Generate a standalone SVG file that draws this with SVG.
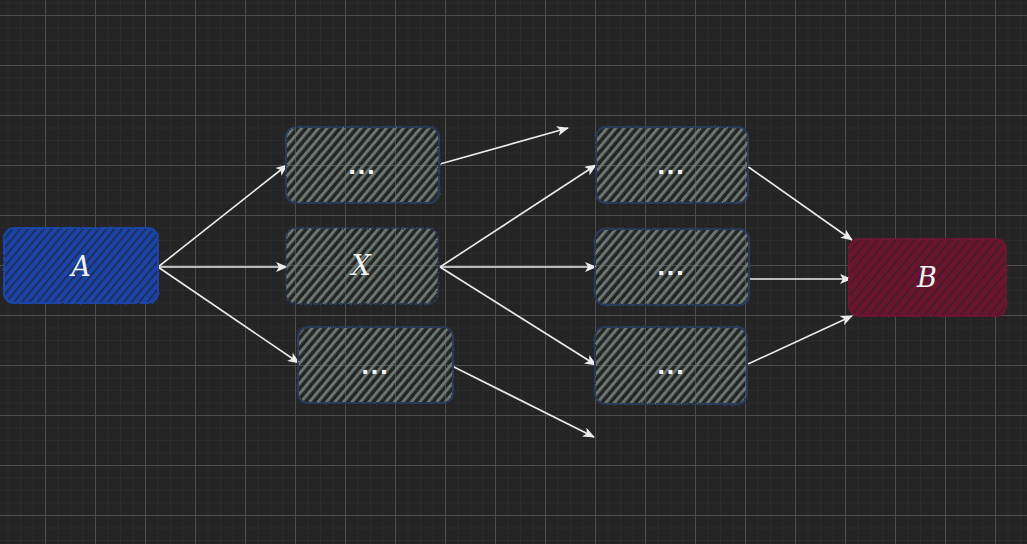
<svg xmlns="http://www.w3.org/2000/svg" width="1027" height="544" viewBox="0 0 1027 544">
  <defs>
    <pattern id="minor" x="45" y="15" width="12.5" height="12.5" patternUnits="userSpaceOnUse">
      <path d="M0.5,0 V12.5 M0,0.5 H12.5" stroke="#2f2f2f" stroke-width="1" fill="none" stroke-dasharray="2,1"/>
    </pattern>
    <pattern id="major" x="45" y="15" width="50" height="50" patternUnits="userSpaceOnUse">
      <path d="M0.5,0 V50 M0,0.5 H50" stroke="#4c4c4c" stroke-width="1" fill="none"/>
    </pattern>
    <pattern id="hatchGray" width="6.5" height="6.5" patternUnits="userSpaceOnUse" patternTransform="rotate(40)">
      <rect x="0" y="0" width="3" height="6.5" fill="#6a7771"/>
    </pattern>
    <pattern id="hatchBlue" width="6" height="6" patternUnits="userSpaceOnUse" patternTransform="rotate(40)">
      <rect x="0" y="0" width="6" height="6" fill="#1b44a6"/>
      <rect x="0" y="0" width="1.6" height="6" fill="#1c2a50"/>
    </pattern>
    <pattern id="hatchRed" width="7" height="7" patternUnits="userSpaceOnUse" patternTransform="rotate(40)">
      <rect x="0" y="0" width="7" height="7" fill="#691530"/>
      <rect x="0" y="0" width="1.3" height="7" fill="#3b1c24"/>
    </pattern>
    <marker id="arrow" viewBox="0 0 12 10" refX="11" refY="5" markerWidth="12" markerHeight="10" markerUnits="userSpaceOnUse" orient="auto">
      <path d="M0,0 L12,5 L0,10 L3,5 Z" fill="#ececec"/>
    </marker>
    <filter id="rough" x="-5%" y="-5%" width="110%" height="110%">
      <feTurbulence type="fractalNoise" baseFrequency="0.6" numOctaves="2" seed="3"/>
      <feDisplacementMap in="SourceGraphic" scale="2.5"/>
    </filter>
  </defs>
  <style>
    .fillr { stroke: none; }
    .outline { fill: none; stroke: #2b3b5a; stroke-width: 2; filter: url(#rough); }
    .gray { fill: url(#hatchGray); }
    .blue { fill: url(#hatchBlue); }
    .red { fill: url(#hatchRed); }
    .ob { stroke: #1b44a6; }
    .or { stroke: #6a1530; }
    .lbl { font-family: "DejaVu Serif", "Liberation Serif", serif; font-style: italic; font-size: 27px; fill: #f2f2f2; text-anchor: middle; }
    .dots { font-family: "DejaVu Sans", "Liberation Sans", sans-serif; font-size: 22px; fill: #f2f2f2; text-anchor: middle; font-weight: bold; letter-spacing: 1px; }
    .edge { stroke: #ececec; stroke-width: 1.6; fill: none; marker-end: url(#arrow); }
  </style>
  <rect width="1027" height="544" fill="#242424"/>
  <rect width="1027" height="544" fill="url(#minor)"/>
  <rect width="1027" height="544" fill="url(#major)"/>

  <g id="connectors">
    <line class="edge" x1="158" y1="267" x2="287" y2="165"/>
    <line class="edge" x1="158" y1="267" x2="287" y2="267"/>
    <line class="edge" x1="158" y1="267" x2="299" y2="363"/>
    <line class="edge" x1="440" y1="164" x2="568" y2="128"/>
    <line class="edge" x1="440" y1="267" x2="596" y2="165"/>
    <line class="edge" x1="440" y1="267" x2="596" y2="267"/>
    <line class="edge" x1="440" y1="267" x2="596" y2="365"/>
    <line class="edge" x1="452" y1="366" x2="594" y2="437"/>
    <line class="edge" x1="747" y1="166" x2="852" y2="240"/>
    <line class="edge" x1="748" y1="279" x2="851" y2="279"/>
    <line class="edge" x1="748" y1="364" x2="852" y2="316"/>
  </g>

  <g id="node-A">
    <rect class="fillr blue" x="4" y="228" width="154" height="75" rx="10"/>
    <rect class="outline ob" x="4" y="228" width="154" height="75" rx="10"/>
    <text class="lbl" x="81" y="276">A</text>
  </g>
  <g id="node-top-mid">
    <rect class="fillr gray" x="286" y="127" width="153" height="76" rx="10"/>
    <rect class="outline" x="286" y="127" width="153" height="76" rx="10"/>
    <text class="dots" x="362" y="179">···</text>
  </g>
  <g id="node-X">
    <rect class="fillr gray" x="286" y="228" width="152" height="76" rx="10"/>
    <rect class="outline" x="286" y="228" width="152" height="76" rx="10" stroke-dasharray="3,2"/>
    <text class="lbl" x="361" y="275">X</text>
  </g>
  <g id="node-bot-mid">
    <rect class="fillr gray" x="298" y="327" width="155" height="76" rx="10"/>
    <rect class="outline" x="298" y="327" width="155" height="76" rx="10"/>
    <text class="dots" x="375" y="379">···</text>
  </g>
  <g id="node-right-top">
    <rect class="fillr gray" x="596" y="127" width="152" height="76" rx="10"/>
    <rect class="outline" x="596" y="127" width="152" height="76" rx="10"/>
    <text class="dots" x="671" y="179">···</text>
  </g>
  <g id="node-right-mid">
    <rect class="fillr gray" x="595" y="229" width="154" height="76" rx="10"/>
    <rect class="outline" x="595" y="229" width="154" height="76" rx="10"/>
    <text class="dots" x="671" y="280">···</text>
  </g>
  <g id="node-right-bot">
    <rect class="fillr gray" x="595" y="327" width="152" height="77" rx="10"/>
    <rect class="outline" x="595" y="327" width="152" height="77" rx="10"/>
    <text class="dots" x="671" y="379">···</text>
  </g>
  <g id="node-B">
    <rect class="fillr red" x="849" y="239" width="157" height="77" rx="10"/>
    <rect class="outline or" x="849" y="239" width="157" height="77" rx="10"/>
    <text class="lbl" x="927" y="287">B</text>
  </g>
</svg>
